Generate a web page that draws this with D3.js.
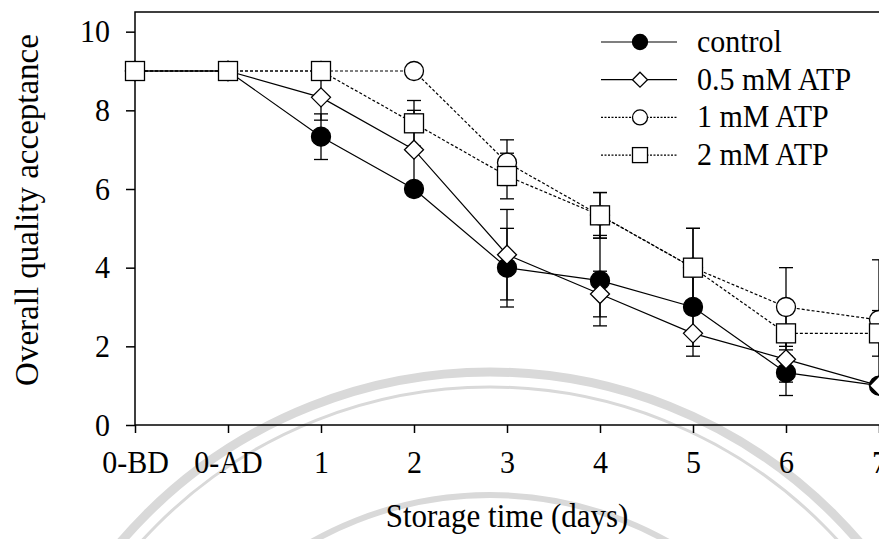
<!DOCTYPE html>
<html>
<head>
<meta charset="utf-8">
<script src="https://cdn.jsdelivr.net/npm/d3@7"></script>
<style>
  html, body { margin: 0; padding: 0; background: #fff; }
  text { font-family: "Liberation Serif", "Times New Roman", serif; fill: #000; }
</style>
</head>
<body>
<div id="chart"></div>
<script>
// categories and values
var categories = ["0-BD", "0-AD", "1", "2", "3", "4", "5", "6", "7"];
var yTicks = [0, 2, 4, 6, 8, 10];

var control    = [9, 9, 7.33, 6,    4,    3.67, 3,    1.33, 1];
var controlErr = [0, 0, 0.58, 0,    1,    1.15, 1,    0.58, 0];
var atp05      = [9, 9, 8.33, 7,    4.33, 3.33, 2.33, 1.67, 1];
var atp05Err   = [0, 0, 0.58, 1,    1.15, 0.58, 0.58, 0.58, 0];
var atp1       = [9, 9, 9,    9,    6.67, 5.33, 4,    3,    2.67];
var atp1Err    = [0, 0, 0,    0,    0.58, 0.58, 1,    1,    1.53];
var atp2       = [9, 9, 9,    7.67, 6.33, 5.33, 4,    2.33, 2.33];
var atp2Err    = [0, 0, 0,    0.58, 0.58, 0.58, 1,    0.58, 0.58];

var seriesNames = ["control", "0.5 mM ATP", "1 mM ATP", "2 mM ATP"];

var width = 879, height = 539;

var svg = d3.select("#chart")
    .append("svg")
    .attr("width", width)
    .attr("height", height);

var x = d3.scalePoint().domain(categories).range([135, 879]);
var y = d3.scaleLinear().domain([0, 10.5]).range([425, 12]);

// faint watermark rings in the background
var wm = svg.append("g").attr("fill", "none").attr("stroke", "#d9d9d9");
wm.append("circle").attr("cx", 490).attr("cy", 858).attr("r", 486).attr("stroke-width", 9);
wm.append("circle").attr("cx", 490).attr("cy", 858).attr("r", 471).attr("stroke-width", 3);
wm.append("circle").attr("cx", 490).attr("cy", 858).attr("r", 363).attr("stroke-width", 6);

// frame
svg.append("rect")
    .attr("x", 135).attr("y", 12)
    .attr("width", 800).attr("height", 413)
    .attr("fill", "none")
    .attr("stroke", "#000")
    .attr("stroke-width", 1.5);

var yAxis = svg.append("g")
    .attr("transform", "translate(135,0)")
    .call(d3.axisLeft(y).tickValues(yTicks).tickSize(9).tickSizeOuter(0).tickPadding(16));
yAxis.select(".domain").remove();
yAxis.selectAll("line").attr("stroke-width", 1.5);
yAxis.selectAll("text")
    .style("font-family", "Liberation Serif").style("font-size", "30px")
    .attr("transform", "scale(1,1.07)");

var xAxis = svg.append("g")
    .attr("transform", "translate(0,425)")
    .call(d3.axisBottom(x).tickSize(8).tickSizeOuter(0).tickPadding(18));
xAxis.select(".domain").remove();
xAxis.selectAll("line").attr("stroke-width", 1.5);
xAxis.selectAll("text")
    .style("font-family", "Liberation Serif").style("font-size", "30px")
    .attr("transform", "translate(0,37) scale(1,1.07) translate(0,-37)");

// axis titles
svg.append("text")
    .attr("transform", "translate(27,210) rotate(-90)")
    .attr("text-anchor", "middle")
    .attr("dominant-baseline", "central")
    .style("font-size", "33px")
    .text("Overall quality acceptance");

svg.append("text")
    .attr("transform", "translate(507,527) scale(1,1.07)")
    .attr("text-anchor", "middle")
    .style("font-size", "31px")
    .text("Storage time (days)");

var series = [
    {name: seriesNames[0], values: control, err: controlErr, shape: "dot",     dash: null},
    {name: seriesNames[1], values: atp05,   err: atp05Err,   shape: "diamond", dash: null},
    {name: seriesNames[2], values: atp1,    err: atp1Err,    shape: "circle",  dash: "3,2"},
    {name: seriesNames[3], values: atp2,    err: atp2Err,    shape: "square",  dash: "3,2"}
];

var line = d3.line()
    .x(function (d, i) { return x(categories[i]); })
    .y(function (d) { return y(d); });

// lines first
series.forEach(function (s) {
    svg.append("path")
        .datum(s.values)
        .attr("d", line)
        .attr("fill", "none")
        .attr("stroke", "#000")
        .attr("stroke-width", 1.2)
        .attr("stroke-dasharray", s.dash);
});

// error bars
series.forEach(function (s) {
    s.values.forEach(function (v, i) {
        if (!s.err[i]) return;
        var cx = x(categories[i]);
        var g = svg.append("g").attr("stroke", "#000").attr("stroke-width", 1.3);
        g.append("line").attr("x1", cx).attr("x2", cx)
            .attr("y1", y(v - s.err[i])).attr("y2", y(v + s.err[i]));
        [v - s.err[i], v + s.err[i]].forEach(function (e) {
            g.append("line").attr("x1", cx - 7).attr("x2", cx + 7)
                .attr("y1", y(e)).attr("y2", y(e));
        });
    });
});

function drawMarker(g, shape, cx, cy, r) {
    var m;
    if (shape === "dot") {
        m = g.append("circle").attr("cx", cx).attr("cy", cy).attr("r", r).attr("fill", "#000");
    } else if (shape === "circle") {
        m = g.append("circle").attr("cx", cx).attr("cy", cy).attr("r", r).attr("fill", "#fff");
    } else if (shape === "diamond") {
        m = g.append("path")
            .attr("d", "M" + cx + "," + (cy - r) + "L" + (cx + r) + "," + cy +
                "L" + cx + "," + (cy + r) + "L" + (cx - r) + "," + cy + "Z")
            .attr("fill", "#fff");
    } else {
        m = g.append("rect").attr("x", cx - r).attr("y", cy - r)
            .attr("width", 2 * r).attr("height", 2 * r).attr("fill", "#fff");
    }
    m.attr("stroke", "#000").attr("stroke-width", 1.3);
}

// markers on top
series.forEach(function (s) {
    var g = svg.append("g");
    s.values.forEach(function (v, i) {
        drawMarker(g, s.shape, x(categories[i]), y(v), 9.5);
    });
});

// legend
var legend = svg.append("g");
series.forEach(function (s, i) {
    var ly = 42 + i * 37.7;
    legend.append("line")
        .attr("x1", 601).attr("x2", 677)
        .attr("y1", ly).attr("y2", ly)
        .attr("stroke", "#000")
        .attr("stroke-width", 1.2)
        .attr("stroke-dasharray", s.dash ? "2,1.5" : null);
    drawMarker(legend, s.shape, 640, ly, 7.5);
    legend.append("text")
        .attr("transform", "translate(697," + (ly + 10) + ") scale(1,1.07)")
        .style("font-size", "30px")
        .text(s.name);
});
</script>
</body>
</html>
